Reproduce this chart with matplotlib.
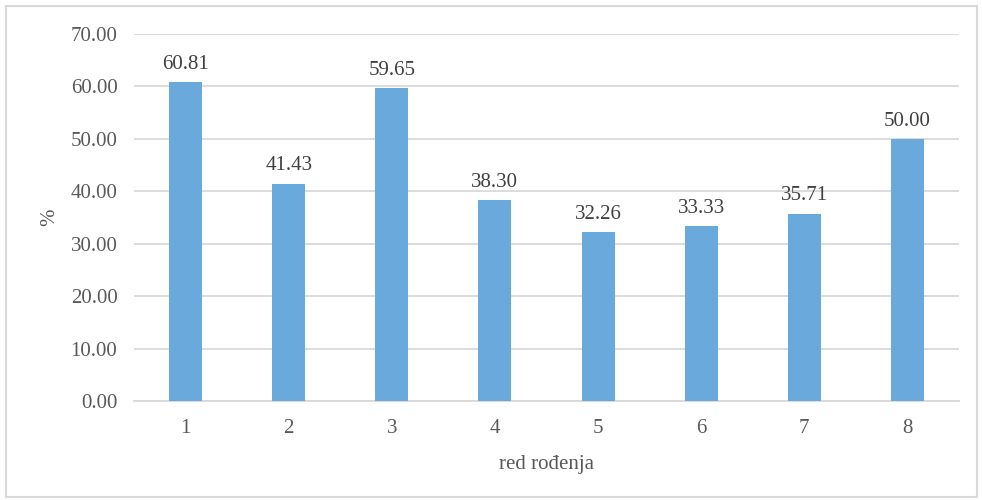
import matplotlib
matplotlib.use('Agg')
import matplotlib.pyplot as plt
from matplotlib.patches import Rectangle

plt.rcParams['font.family'] = ['Liberation Serif', 'DejaVu Serif']

# red rođenja i udio (%)
red_rodjenja = ['1', '2', '3', '4', '5', '6', '7', '8']
udio = [60.81, 41.43, 59.65, 38.30, 32.26, 33.33, 35.71, 50.00]

bar_color = '#6aa9dc'
grid_color = '#d9d9d9'
text_color = '#595959'
fs = 15

fig = plt.figure(figsize=(9.82, 5.0), dpi=100)
ax = fig.add_axes([0.1365, 0.198, 0.84, 0.734])

pos = range(len(red_rodjenja))
bars = ax.bar(pos, udio, width=0.32, color=bar_color, zorder=3)
ax.bar_label(bars, labels=[f'{v:.2f}' for v in udio], padding=6,
             fontsize=fs, color='#404040')

ax.set_xlim(-0.5, len(red_rodjenja) - 0.5)
ax.set_ylim(0, 70)
ax.set_yticks(range(0, 71, 10))
ax.set_yticklabels([f'{t:.2f}' for t in range(0, 71, 10)])
ax.set_xticks(list(pos))
ax.set_xticklabels(red_rodjenja)

ax.yaxis.grid(True, color=grid_color, linewidth=1.3, zorder=0)
ax.tick_params(axis='both', length=0, labelsize=fs, labelcolor=text_color)
ax.tick_params(axis='y', pad=12)
ax.tick_params(axis='x', pad=13)
for side in ['top', 'right', 'left']:
    ax.spines[side].set_visible(False)
ax.spines['bottom'].set_color(grid_color)
ax.spines['bottom'].set_linewidth(1.3)

ax.set_xlabel('red rođenja', fontsize=fs, color=text_color, labelpad=12)
ax.set_ylabel('%', fontsize=fs, color=text_color, labelpad=8)

# okvir oko grafikona
fig.add_artist(Rectangle((6 / 982, 3 / 500), 971 / 982, 491 / 500,
                         transform=fig.transFigure, fill=False,
                         edgecolor='#d9d9d9', linewidth=1.5))

fig.savefig('out.png', dpi=100, facecolor='white')
plt.close(fig)
